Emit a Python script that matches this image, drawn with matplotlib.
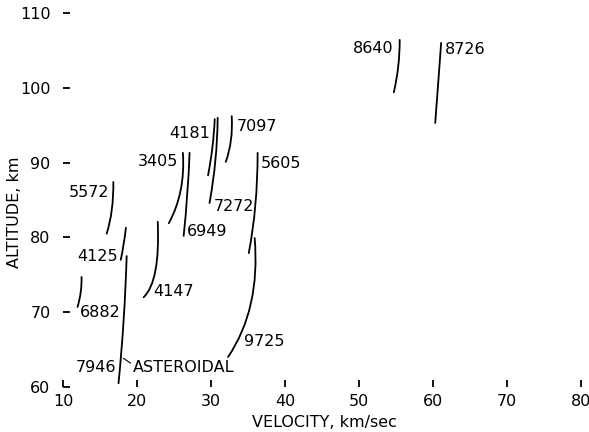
import matplotlib
matplotlib.use("Agg")
import matplotlib.pyplot as plt
from matplotlib.path import Path
from matplotlib.patches import PathPatch

# ---- data ----
trail_ids = ["8640", "8726", "4181", "7272", "7097", "3405", "6949",
             "5605", "5572", "4125", "7946", "6882", "4147", "9725"]
top_velocity = [55.5, 61.1, 30.5, 30.9, 32.8, 26.2, 27.1, 36.3, 16.8, 18.5, 18.6, 12.5, 22.8, 35.9]
top_altitude = [106.4, 106.0, 95.8, 96.0, 96.2, 91.3, 91.3, 91.3, 87.4, 81.3, 77.5, 74.7, 82.1, 79.9]
mid_velocity = [55.3, 60.7, 30.2, 30.6, 32.7, 25.9, 26.8, 36.0, 16.6, 18.2, 18.2, 12.4, 22.5, 35.4]
mid_altitude = [102.8, 100.6, 92.1, 90.3, 93.0, 86.3, 85.7, 84.3, 83.7, 79.1, 69.0, 72.7, 75.6, 71.2]
bottom_velocity = [54.7, 60.3, 29.6, 29.8, 32.0, 24.3, 26.3, 35.1, 15.9, 17.8, 17.5, 11.96, 20.9, 32.3]
bottom_altitude = [99.4, 95.3, 88.3, 84.6, 90.1, 81.9, 80.2, 77.9, 80.5, 77.0, 60.5, 70.7, 72.0, 64.0]

asteroidal_label = "ASTEROIDAL"
asteroidal_point = (18.15, 63.84)   # point on trail 7946 the leader refers to

x_ticks = [10, 20, 30, 40, 50, 60, 70, 80]
y_ticks = [60, 70, 80, 90, 100, 110]
x_label = "VELOCITY, km/sec"
y_label = "ALTITUDE, km"

# ---- layout: label anchor end, pixel offset, alignment ----
label_layout = {
    "8640": ("top", -6, -9, "right"),
    "8726": ("top", 4, -7, "left"),
    "4181": ("top", -5, -14, "right"),
    "7272": ("bottom", 4, -4, "left"),
    "7097": ("top", 5, -10, "left"),
    "3405": ("top", -5, -9, "right"),
    "6949": ("bottom", 3, 4, "left"),
    "5605": ("top", 3, -11, "left"),
    "5572": ("top", -4, -10, "right"),
    "4125": ("bottom", -3, 3, "right"),
    "7946": ("bottom", -2, 16, "right"),
    "6882": ("bottom", 2, -6, "left"),
    "4147": ("bottom", 10, 6, "left"),
    "9725": ("bottom", 16, 16, "left"),
}

FS = 11.5
plt.rcParams["font.family"] = ["DejaVu Sans"]

fig = plt.figure(figsize=(5.89, 4.32), dpi=100)
ax = fig.add_axes([0.107, 0.1042, 0.8794, 0.8657])
ax.set_xlim(10, 80)
ax.set_ylim(60, 110)
for s in ax.spines.values():
    s.set_visible(False)

ax.set_xticks(x_ticks)
ax.set_yticks(y_ticks)
ax.tick_params(axis="both", direction="in", length=5, width=1.3,
               labelsize=FS, color="black")
ax.tick_params(axis="x", pad=5)
ax.tick_params(axis="y", pad=9)

for i, tid in enumerate(trail_ids):
    p0 = (top_velocity[i], top_altitude[i])
    pm = (mid_velocity[i], mid_altitude[i])
    p2 = (bottom_velocity[i], bottom_altitude[i])
    ctrl = (2 * pm[0] - (p0[0] + p2[0]) / 2, 2 * pm[1] - (p0[1] + p2[1]) / 2)
    path = Path([p0, ctrl, p2], [Path.MOVETO, Path.CURVE3, Path.CURVE3])
    ax.add_patch(PathPatch(path, fill=False, lw=1.3, edgecolor="black",
                           capstyle="round"))
    end, dx, dy, ha = label_layout[tid]
    anchor = p0 if end == "top" else p2
    ax.annotate(tid, xy=anchor, xytext=(dx, dy), textcoords="offset pixels",
                ha=ha, va="center", fontsize=FS)

ax.annotate(asteroidal_label, xy=asteroidal_point, xytext=(10, -9),
            textcoords="offset pixels", ha="left", va="center", fontsize=FS,
            arrowprops=dict(arrowstyle="-", lw=0.8, color="black",
                            shrinkA=0, shrinkB=0, relpos=(0, 0.65)))

ax.set_xlabel(x_label, fontsize=FS)
ax.set_ylabel(y_label, fontsize=FS, va="center")
ax.xaxis.set_label_coords(0.504, -0.094)
ax.yaxis.set_label_coords(-0.093, 0.468)
ax.xaxis.label.set_va("center")

fig.savefig("out.png", dpi=100)
